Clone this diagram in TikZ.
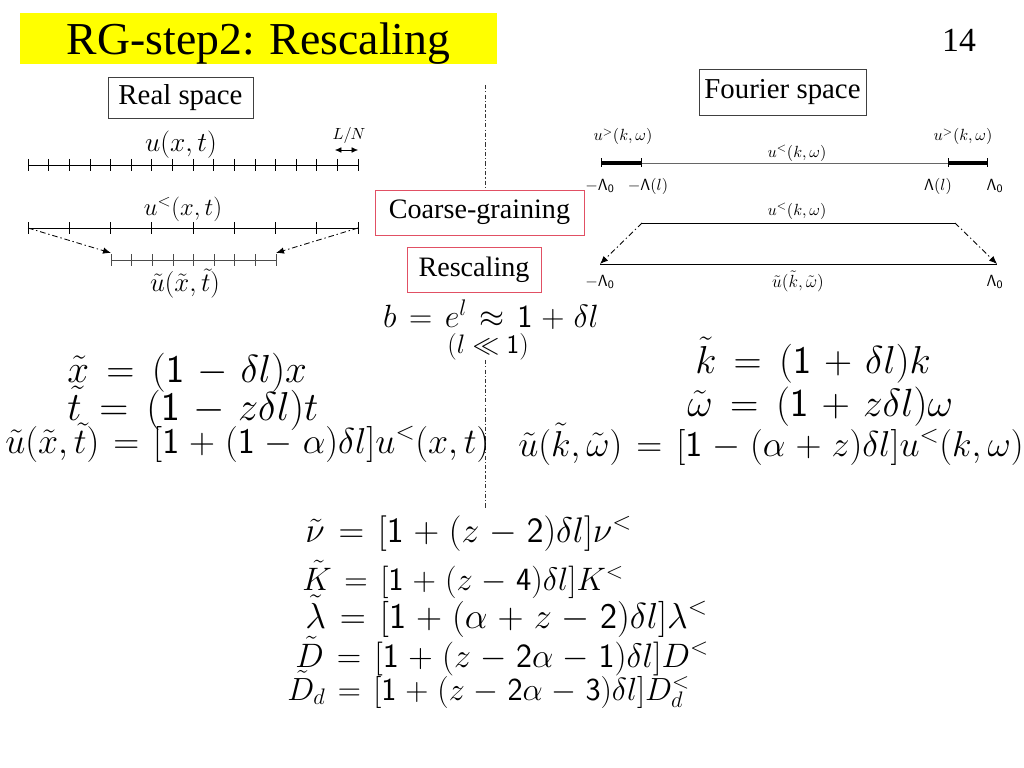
\RequirePackage{fix-cm}
\documentclass[tikz,border=0pt]{standalone}
\usepackage[no-math]{fontspec}
\setmainfont{Liberation Serif}
\usetikzlibrary{arrows.meta, calc, positioning}
% sans serif digits in formulas
\DeclareSymbolFont{sfdigits}{OT1}{cmss}{m}{n}
\DeclareMathSymbol{0}{\mathalpha}{sfdigits}{`0}
\DeclareMathSymbol{1}{\mathalpha}{sfdigits}{`1}
\DeclareMathSymbol{2}{\mathalpha}{sfdigits}{`2}
\DeclareMathSymbol{3}{\mathalpha}{sfdigits}{`3}
\DeclareMathSymbol{4}{\mathalpha}{sfdigits}{`4}
\DeclareMathSymbol{\sfL}{\mathalpha}{sfdigits}{"03}
\newcommand{\widespacing}{\thickmuskip=8mu\medmuskip=6mu}
\newcommand{\midspacing}{\thickmuskip=7mu\medmuskip=5mu}
\definecolor{titleyellow}{RGB}{255,255,0}
\definecolor{boxred}{RGB}{225,80,100}

\begin{document}
\begin{tikzpicture}[
    x=0.025cm, y=-0.025cm,
    slidetitle/.style={fill=titleyellow, minimum width=11.925cm, minimum height=1.275cm,
        text depth=0pt, font=\fontsize{32.5}{36}\selectfont},
    spacebox/.style={draw=black!75, fill=white, font=\fontsize{20.5}{24}\selectfont},
    stepbox/.style={draw=boxred, fill=white, font=\fontsize{20}{24}\selectfont},
    bigeq/.style={inner sep=0, anchor=base west, execute at begin node=\widespacing},
    mideq/.style={inner sep=0, anchor=base west, execute at begin node=\midspacing},
    xlbl/.style={inner sep=0, anchor=base, font=\fontsize{17.5}{20}\selectfont},
    klbl/.style={inner sep=0, anchor=base, font=\fontsize{11.5}{14}\selectfont},
    coarse arrow/.style={line width=0.6pt, dash pattern=on 4pt off 2pt on 1pt off 2pt,
        -{Latex[length=2mm, width=1.6mm]}},
    divider/.style={black!80, dash pattern=on 3pt off 1.5pt on 0.8pt off 1.5pt, line width=0.4pt}]

\useasboundingbox (0,0) rectangle (1024,768);

% Title and page number
\node[slidetitle] (title) at (258.5,38.5) {RG-step2: Rescaling};
\node[font=\fontsize{24}{28}\selectfont] (pagenum) at (959,40) {14};

% Divider between the two halves
\coordinate (divtop) at (485,85);
\coordinate (divbot) at (485,508);

% Real space
\node[spacebox, minimum width=3.625cm, minimum height=1.025cm] (realbox) at (180.5,97.5) {Real space};
\coordinate (r1w) at (28,165);
\coordinate (r1e) at (358,165);
\coordinate (r2w) at (28,228);
\coordinate (r2e) at (358,228);
\coordinate (r3w) at (111,260);
\coordinate (r3e) at (276,260);
\draw (r1w) -- (r1e);
\foreach \i in {0,...,16}
    \draw ($(r1w)!\i/16!(r1e)$) +(0,-6) -- +(0,6);
\draw (r2w) -- (r2e);
\foreach \i in {0,...,8}
    \draw ($(r2w)!\i/8!(r2e)$) +(0,-6) -- +(0,6);
\draw[black!70] (r3w) -- (r3e);
\foreach \i in {0,...,8}
    \draw[black!70] ($(r3w)!\i/8!(r3e)$) +(0,-6) -- +(0,6);
\node[xlbl, font=\fontsize{19.5}{22}\selectfont] (ux) at (181,152) {$u(x,t)$};
\node[klbl] (ln) at (349,140) {$L/N$};
\draw[{Latex[length=1.6mm, width=1.4mm]}-{Latex[length=1.6mm, width=1.4mm]}] (335,150) coordinate (lnw) -- (358,150) coordinate (lne);
\node[xlbl] (uxless) at (183,215) {$u^{<}(x,t)$};
\node[xlbl, font=\fontsize{19}{22}\selectfont] (uxt) at (185,291) {$\tilde{u}(\tilde{x},\tilde{t})$};
\draw[coarse arrow] (r2w) -- ([yshift=5pt]r3w);
\draw[coarse arrow] (r2e) -- ([yshift=5pt]r3e);

% Fourier space
\node[spacebox, minimum width=4.175cm, minimum height=1.15cm] (fourbox) at (782.5,92) {Fourier space};
\coordinate (f1w) at (601,163);
\coordinate (f1a) at (641,163);
\coordinate (f1b) at (948,163);
\coordinate (f1e) at (987,163);
\coordinate (f2w) at (642,223);
\coordinate (f2e) at (955,223);
\coordinate (f3w) at (600,264);
\coordinate (f3e) at (997,264);
\draw[black!60] (f1a) -- (f1b);
\draw[line width=3.2pt] (f1w) -- (f1a);
\draw[line width=3.2pt] (f1b) -- (f1e);
\foreach \p in {f1w, f1a, f1b, f1e}
    \draw (\p) +(0,-4.5) -- +(0,4.5);
\draw (f2w) -- (f2e);
\draw (f3w) -- (f3e);
\draw[coarse arrow] (f2w) -- (f3w);
\draw[coarse arrow] (f2e) -- (f3e);
\node[klbl] (ugl) at (623,141) {$u^{>}(k,\omega)$};
\node[klbl] (ugr) at (963,141) {$u^{>}(k,\omega)$};
\node[klbl] (ulk) at (797,157) {$u^{<}(k,\omega)$};
\node[klbl] (lam0l) at (600,190) {$-\sfL_0$};
\node[klbl] (laml) at (648,190) {$-\sfL(l)$};
\node[klbl] (lamr) at (938,190) {$\sfL(l)$};
\node[klbl] (lam0r) at (995,190) {$\sfL_0$};
\node[klbl] (ulk2) at (797,215) {$u^{<}(k,\omega)$};
\node[klbl] (lam0l2) at (600,286) {$-\sfL_0$};
\node[klbl, font=\fontsize{12.5}{14}\selectfont] (ukw) at (798,287) {$\tilde{u}(\tilde{k},\tilde{\omega})$};
\node[klbl] (lam0r2) at (995,286) {$\sfL_0$};

% Steps in the middle
\node[stepbox, minimum width=5.225cm, minimum height=1.125cm] (coarse) at (479.5,212.5) {Coarse-graining};
\node[stepbox, minimum width=3.35cm, minimum height=1.125cm] (rescale) at (474,269.5) {Rescaling};
\node[mideq, anchor=base, font=\fontsize{22.9}{28}\selectfont] (bscale) at (491,327) {$b = e^{l} \approx 1 + \delta l$};
\node[xlbl, font=\fontsize{19}{22}\selectfont] (smallcond) at (488,353) {$(l \ll 1)$};
\draw[divider] (divtop) -- (divtop |- coarse.north);
\draw[divider] (divbot |- smallcond.south) -- (divbot);

% Rescaled variables
\node[bigeq, font=\fontsize{27.8}{32}\selectfont] (xt) at (67,382) {$\tilde{x} = (1 - \delta l)x$};
\node[bigeq, font=\fontsize{28.7}{32}\selectfont] (tt) at (67,420) {$\tilde{t} = (1 - z\delta l)t$};
\node[mideq, font=\fontsize{25.6}{30}\selectfont] (ut) at (5,453) {$\tilde{u}(\tilde{x},\tilde{t}) = [1 + (1-\alpha)\delta l]u^{<}(x,t)$};
\node[bigeq, font=\fontsize{27.7}{32}\selectfont] (kt) at (695,373) {$\tilde{k} = (1 + \delta l)k$};
\node[bigeq, font=\fontsize{28}{32}\selectfont] (wt) at (687,416) {$\tilde{\omega} = (1 + z\delta l)\omega$};
\node[mideq, font=\fontsize{25.6}{30}\selectfont] (ukt) at (518,456) {$\tilde{u}(\tilde{k},\tilde{\omega}) = [1 - (\alpha+z)\delta l]u^{<}(k,\omega)$};

% Rescaled parameters
\node[mideq, font=\fontsize{25.3}{30}\selectfont] (nut) at (305,542) {$\tilde{\nu} = [1 + (z-2)\delta l]\nu^{<}$};
\node[mideq, font=\fontsize{23.1}{28}\selectfont] (kat) at (302,590) {$\tilde{K} = [1 + (z-4)\delta l]K^{<}$};
\node[mideq, font=\fontsize{25.7}{30}\selectfont] (lat) at (305,628) {$\tilde{\lambda} = [1 + (\alpha+z-2)\delta l]\lambda^{<}$};
\node[mideq, font=\fontsize{24.1}{30}\selectfont] (dt) at (295,667) {$\tilde{D} = [1 + (z-2\alpha-1)\delta l]D^{<}$};
\node[mideq, font=\fontsize{22.8}{28}\selectfont] (ddt) at (287,700) {$\tilde{D}_d = [1 + (z-2\alpha-3)\delta l]D^{<}_d$};

\end{tikzpicture}
\end{document}
